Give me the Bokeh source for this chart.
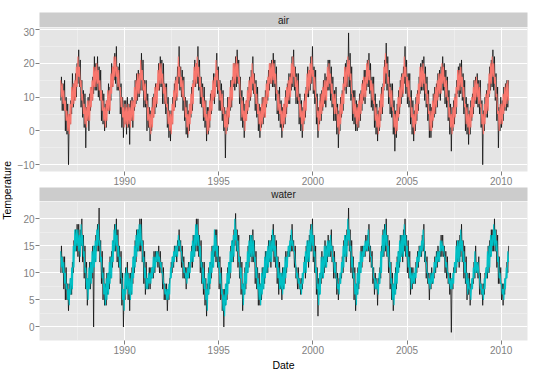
import numpy as np
from bokeh.plotting import figure
from bokeh.layouts import row, column
from bokeh.models import Range1d, FixedTicker
from bokeh.embed import file_html
from bokeh.resources import INLINE
from bokeh.core.properties import value

FONT = "Liberation Sans"

# monthly data, first month = Aug 1986
start_year, start_month = 1986, 8

# ---- air: observed (black) monthly high / low, modelled (red) monthly high / low
air_obs_hi = [
    16, 14, 15, 10, 8, 5, 9, 17, 14, 17, 20, 24,
    21, 15, 12, 11, 7, 10, 11, 13, 16, 22, 20, 22,
    19, 18, 12, 11, 8, 9, 14, 13, 20, 19, 23, 25,
    19, 20, 14, 10, 9, 9, 10, 8, 9, 10, 9, 15,
    17, 18, 17, 23, 21, 15, 15, 11, 7, 6, 10, 11,
    14, 14, 20, 22, 21, 20, 14, 14, 10, 6, 6, 10,
    14, 16, 19, 25, 19, 18, 16, 10, 9, 6, 8, 13,
    15, 21, 20, 25, 21, 16, 14, 13, 9, 7, 7, 11,
    12, 17, 17, 23, 19, 15, 14, 12, 7, 6, 10, 10,
    15, 16, 20, 22, 24, 21, 16, 12, 10, 8, 9, 13,
    16, 18, 22, 17, 15, 13, 8, 7, 10, 10, 12, 15,
    18, 20, 21, 23, 21, 19, 12, 13, 9, 7, 8, 12,
    14, 17, 17, 22, 24, 19, 17, 17, 11, 9, 7, 11,
    13, 19, 18, 22, 25, 19, 18, 11, 7, 11, 12, 15,
    17, 16, 21, 21, 19, 16, 12, 13, 8, 6, 10, 12,
    16, 20, 21, 29, 23, 19, 12, 12, 9, 8, 11, 12,
    15, 18, 18, 21, 23, 20, 16, 16, 11, 8, 6, 9,
    13, 14, 21, 26, 22, 18, 14, 14, 9, 6, 8, 12,
    15, 17, 19, 25, 21, 17, 17, 12, 9, 6, 10, 12,
    16, 20, 21, 22, 19, 16, 12, 8, 7, 11, 13, 14,
    17, 18, 19, 22, 20, 18, 16, 12, 8, 7, 9, 11,
    15, 19, 20, 21, 17, 15, 10, 8, 6, 9, 11, 15,
    16, 17, 15, 15, 9, 6, 10, 12, 14, 19, 21, 24,
    22, 17, 13, 7, 10, 9, 13, 14, 15, 15,
]
air_obs_lo = [
    9, 6, 6, 0, -1, -10, 2, 5, 7, 9, 10, 14,
    13, 7, 4, 1, -5, 3, 0, 6, 9, 11, 12, 12,
    10, 9, 3, 2, 0, 1, 6, 5, 9, 13, 15, 14,
    12, 12, 5, 1, -2, 2, -1, 1, -4, 3, 1, 6,
    8, 9, 10, 12, 12, 7, 7, 0, 1, -3, 0, 4,
    5, 7, 12, 12, 13, 8, 8, 5, 1, -2, -3, 2,
    6, 7, 9, 14, 12, 10, 6, 3, -1, -2, 0, 4,
    6, 13, 13, 14, 12, 8, 7, 3, 1, -3, -1, 1,
    5, 9, 8, 13, 11, 6, 6, 3, 0, -8, 0, 2,
    6, 7, 13, 12, 13, 14, 8, 3, 1, -2, 3, 5,
    7, 9, 12, 11, 6, 4, 0, -2, 1, 2, 4, 7,
    9, 12, 14, 13, 13, 9, 5, 3, 1, -2, 1, 2,
    5, 8, 8, 12, 13, 12, 8, 8, 2, 0, -2, 2,
    4, 10, 10, 12, 14, 11, 8, 2, -2, 2, 3, 6,
    8, 7, 12, 12, 9, 7, 3, 3, -1, -5, 0, 4,
    6, 12, 11, 13, 13, 9, 3, 2, 0, 0, 1, 3,
    6, 9, 8, 12, 13, 11, 7, 6, 1, -1, -3, 0,
    3, 5, 12, 14, 12, 8, 5, 4, -1, -6, -2, 3,
    5, 8, 10, 14, 11, 8, 7, 2, -1, -3, 0, 3,
    6, 11, 12, 12, 9, 7, 3, -2, -2, 1, 4, 5,
    7, 10, 9, 12, 12, 8, 7, 3, -1, -6, 0, 2,
    5, 11, 10, 11, 9, 5, 0, -1, -4, -1, 3, 5,
    8, 8, 7, 5, 1, -10, 0, 4, 4, 10, 12, 13,
    12, 9, 3, -5, 0, 1, 3, 6, 6, 7,
]
air_mod_hi = [
    15, 14, 12, 9, 6, 5, 8, 13, 14, 15, 19, 22,
    19, 15, 11, 8, 7, 9, 9, 13, 15, 19, 19, 20,
    18, 15, 12, 9, 7, 9, 12, 12, 17, 19, 22, 22,
    19, 18, 13, 10, 7, 8, 7, 8, 7, 9, 9, 13,
    15, 17, 17, 21, 18, 15, 14, 9, 7, 5, 7, 10,
    13, 14, 18, 20, 20, 17, 14, 13, 8, 6, 5, 8,
    12, 15, 16, 22, 19, 16, 15, 10, 7, 5, 8, 11,
    14, 19, 20, 22, 19, 16, 13, 10, 9, 5, 6, 9,
    12, 15, 16, 21, 18, 15, 12, 11, 7, 5, 7, 10,
    13, 15, 20, 20, 22, 20, 16, 10, 9, 6, 9, 12,
    15, 16, 20, 17, 14, 11, 8, 6, 8, 10, 10, 14,
    16, 20, 20, 21, 20, 17, 12, 11, 8, 6, 8, 10,
    13, 15, 16, 20, 22, 19, 16, 15, 10, 8, 6, 9,
    12, 17, 18, 20, 22, 18, 16, 10, 6, 9, 11, 13,
    15, 15, 19, 20, 17, 14, 11, 11, 7, 5, 8, 11,
    14, 19, 19, 22, 21, 17, 11, 10, 8, 7, 9, 11,
    14, 16, 16, 20, 21, 18, 15, 14, 9, 7, 5, 7,
    11, 13, 19, 23, 20, 16, 13, 12, 7, 5, 6, 10,
    13, 16, 17, 22, 19, 16, 15, 10, 7, 5, 8, 11,
    14, 19, 19, 20, 17, 14, 11, 6, 6, 9, 11, 13,
    15, 17, 17, 20, 19, 16, 15, 10, 7, 5, 7, 10,
    13, 18, 18, 19, 16, 13, 8, 7, 5, 7, 10, 13,
    15, 16, 14, 13, 8, 5, 8, 11, 12, 17, 20, 22,
    20, 16, 11, 6, 8, 8, 11, 13, 14, 15,
]
air_mod_lo = [
    10, 8, 6, 3, 0, -1, 2, 7, 8, 9, 13, 16,
    13, 9, 5, 2, 1, 3, 3, 7, 9, 13, 13, 14,
    12, 9, 6, 3, 1, 3, 6, 6, 11, 13, 16, 16,
    13, 12, 7, 4, 1, 2, 1, 2, 1, 3, 3, 7,
    9, 11, 11, 15, 12, 9, 8, 3, 1, -1, 1, 4,
    7, 8, 12, 14, 14, 11, 8, 7, 2, 0, -1, 2,
    6, 9, 10, 16, 13, 10, 9, 4, 1, -1, 2, 5,
    8, 13, 14, 16, 13, 10, 7, 4, 3, -1, 0, 3,
    6, 9, 10, 15, 12, 9, 6, 5, 1, -1, 1, 4,
    7, 9, 14, 14, 16, 14, 10, 4, 3, 0, 3, 6,
    9, 10, 14, 11, 8, 5, 2, 0, 2, 4, 4, 8,
    10, 14, 14, 15, 14, 11, 6, 5, 2, 0, 2, 4,
    7, 9, 10, 14, 16, 13, 10, 9, 4, 2, 0, 3,
    6, 11, 12, 14, 16, 12, 10, 4, 0, 3, 5, 7,
    9, 9, 13, 14, 11, 8, 5, 5, 1, -1, 2, 5,
    8, 13, 13, 16, 15, 11, 5, 4, 2, 1, 3, 5,
    8, 10, 10, 14, 15, 12, 9, 8, 3, 1, -1, 1,
    5, 7, 13, 17, 14, 10, 7, 6, 1, -1, 0, 4,
    7, 10, 11, 16, 13, 10, 9, 4, 1, -1, 2, 5,
    8, 13, 13, 14, 11, 8, 5, 0, 0, 3, 5, 7,
    9, 11, 11, 14, 13, 10, 9, 4, 1, -1, 1, 4,
    7, 12, 12, 13, 10, 7, 2, 1, -1, 1, 4, 7,
    9, 10, 8, 7, 2, -1, 2, 5, 6, 11, 14, 16,
    14, 10, 5, 0, 2, 2, 5, 7, 8, 9,
]

# ---- water: observed (black) monthly high / low, modelled (cyan) monthly high / low
water_obs_hi = [
    15, 13, 13, 11, 8, 8, 9, 12, 16, 18, 19, 19,
    18, 20, 17, 15, 12, 9, 12, 12, 15, 15, 17, 19,
    22, 16, 14, 11, 8, 10, 10, 13, 14, 16, 19, 20,
    18, 15, 14, 10, 7, 11, 12, 10, 10, 11, 13, 16,
    18, 18, 20, 20, 16, 14, 12, 9, 11, 11, 11, 14,
    14, 14, 15, 14, 12, 11, 8, 8, 7, 9, 12, 13,
    15, 15, 16, 18, 16, 15, 13, 11, 11, 12, 12, 15,
    17, 17, 20, 20, 17, 16, 12, 12, 9, 8, 11, 12,
    15, 15, 18, 18, 15, 13, 11, 7, 7, 8, 11, 12,
    15, 16, 18, 21, 18, 17, 13, 12, 8, 11, 12, 15,
    17, 17, 18, 16, 14, 11, 10, 8, 11, 11, 14, 14,
    16, 16, 17, 19, 17, 16, 13, 12, 10, 11, 11, 14,
    14, 15, 17, 19, 16, 15, 11, 11, 9, 9, 10, 13,
    15, 16, 17, 19, 20, 17, 15, 11, 9, 10, 14, 13,
    16, 15, 17, 16, 18, 15, 14, 12, 10, 9, 10, 13,
    16, 17, 18, 22, 18, 16, 13, 11, 8, 11, 12, 15,
    15, 15, 17, 17, 19, 15, 14, 11, 10, 9, 9, 11,
    15, 18, 19, 20, 17, 16, 12, 10, 8, 11, 13, 14,
    17, 17, 18, 20, 17, 16, 14, 11, 11, 10, 12, 14,
    15, 15, 17, 19, 14, 13, 10, 10, 11, 10, 13, 14,
    15, 14, 17, 17, 15, 14, 13, 10, 10, 9, 11, 12,
    16, 16, 17, 19, 16, 15, 13, 10, 10, 8, 9, 12,
    15, 12, 13, 10, 8, 8, 10, 11, 15, 16, 18, 18,
    20, 18, 17, 13, 11, 8, 8, 9, 12, 15,
]
water_obs_lo = [
    10, 10, 7, 5, 5, 3, 6, 6, 10, 14, 14, 13,
    12, 15, 12, 9, 7, 4, 7, 7, 9, 0, 12, 14,
    14, 12, 8, 5, 4, 4, 6, 7, 9, 11, 14, 14,
    12, 11, 8, 4, 0, 5, 7, 5, 3, 6, 8, 10,
    12, 14, 14, 14, 12, 8, 6, 7, 7, 7, 9, 9,
    10, 12, 11, 10, 10, 7, 5, 5, 3, 5, 9, 10,
    11, 13, 12, 14, 14, 11, 9, 9, 7, 9, 9, 11,
    11, 13, 14, 14, 13, 10, 8, 6, 4, 2, 6, 7,
    9, 11, 13, 12, 11, 7, 5, 3, 0, 4, 5, 8,
    9, 12, 12, 15, 14, 11, 9, 6, 3, 6, 7, 10,
    11, 13, 12, 12, 8, 7, 4, 4, 5, 7, 8, 10,
    10, 12, 11, 14, 12, 11, 8, 6, 7, 5, 7, 8,
    10, 13, 13, 14, 14, 11, 9, 7, 7, 6, 7, 10,
    9, 12, 11, 14, 14, 12, 10, 6, 2, 6, 8, 9,
    10, 11, 12, 13, 13, 12, 9, 9, 6, 5, 8, 9,
    10, 13, 12, 15, 14, 10, 9, 5, 3, 6, 7, 10,
    11, 13, 13, 14, 14, 12, 11, 8, 6, 7, 4, 8,
    9, 13, 13, 14, 13, 10, 7, 5, 3, 6, 7, 10,
    11, 13, 12, 14, 13, 10, 9, 6, 7, 8, 8, 10,
    11, 13, 13, 14, 12, 9, 8, 5, 7, 8, 9, 10,
    11, 12, 13, 13, 13, 10, 9, 8, 6, -1, 7, 10,
    10, 12, 11, 13, 12, 9, 8, 5, 6, 4, 7, 8,
    9, 10, 9, 6, 6, 4, 6, 9, 9, 10, 13, 14,
    14, 14, 11, 8, 8, 5, 4, 6, 9, 10,
]
water_mod_hi = [
    14, 13, 12, 10, 8, 7, 9, 11, 15, 18, 18, 18,
    17, 19, 17, 14, 11, 9, 11, 12, 14, 15, 16, 18,
    19, 16, 13, 10, 8, 9, 10, 12, 13, 16, 18, 19,
    17, 15, 13, 9, 7, 10, 11, 10, 9, 10, 13, 15,
    17, 18, 19, 19, 16, 13, 11, 9, 10, 10, 11, 13,
    13, 14, 14, 13, 12, 10, 8, 7, 7, 8, 11, 13,
    14, 15, 15, 17, 16, 14, 12, 11, 10, 11, 12, 14,
    16, 17, 19, 19, 17, 15, 12, 11, 9, 7, 10, 12,
    14, 15, 18, 17, 15, 12, 10, 7, 6, 8, 10, 12,
    14, 16, 17, 20, 18, 16, 13, 11, 8, 10, 12, 14,
    16, 17, 17, 16, 13, 11, 9, 8, 10, 11, 13, 14,
    15, 16, 16, 18, 17, 15, 13, 11, 10, 10, 11, 13,
    13, 15, 16, 18, 16, 14, 11, 10, 9, 8, 10, 12,
    14, 16, 16, 18, 19, 17, 14, 11, 8, 10, 13, 13,
    15, 15, 16, 16, 17, 15, 13, 12, 9, 8, 10, 12,
    15, 17, 17, 20, 18, 15, 13, 10, 8, 10, 12, 14,
    14, 15, 16, 16, 18, 15, 13, 11, 9, 9, 8, 10,
    14, 17, 18, 19, 17, 15, 12, 9, 8, 10, 12, 14,
    16, 17, 17, 19, 17, 15, 13, 11, 10, 10, 11, 13,
    14, 15, 16, 18, 14, 12, 10, 9, 10, 10, 12, 13,
    14, 14, 16, 16, 15, 13, 12, 10, 9, 9, 10, 12,
    15, 16, 16, 18, 16, 14, 12, 10, 9, 7, 9, 11,
    14, 12, 12, 9, 8, 7, 9, 11, 14, 15, 17, 17,
    19, 18, 16, 13, 10, 8, 7, 9, 11, 14,
]
water_mod_lo = [
    11, 10, 8, 7, 5, 4, 6, 7, 11, 14, 15, 14,
    13, 15, 13, 10, 7, 5, 7, 8, 10, 11, 12, 15,
    15, 12, 9, 6, 4, 5, 6, 8, 9, 12, 14, 15,
    13, 11, 9, 5, 3, 6, 7, 6, 5, 6, 9, 11,
    13, 14, 15, 15, 12, 9, 7, 7, 8, 8, 9, 10,
    11, 12, 12, 11, 10, 8, 6, 5, 5, 6, 9, 11,
    12, 13, 13, 15, 14, 12, 10, 9, 8, 9, 10, 12,
    12, 13, 15, 15, 13, 11, 8, 7, 5, 3, 6, 8,
    10, 11, 14, 13, 11, 8, 6, 3, 2, 4, 6, 8,
    10, 12, 13, 16, 14, 12, 9, 7, 4, 6, 8, 10,
    12, 13, 13, 12, 9, 7, 5, 4, 6, 7, 9, 10,
    11, 12, 12, 14, 13, 11, 9, 7, 7, 6, 7, 9,
    11, 13, 14, 15, 14, 12, 9, 8, 7, 6, 8, 10,
    10, 12, 12, 14, 15, 13, 10, 7, 4, 6, 9, 9,
    11, 11, 13, 13, 14, 12, 10, 9, 7, 6, 8, 10,
    11, 13, 13, 16, 14, 11, 9, 6, 4, 6, 8, 10,
    12, 13, 14, 14, 15, 13, 11, 9, 7, 7, 6, 8,
    10, 13, 14, 15, 13, 11, 8, 5, 4, 6, 8, 10,
    12, 13, 13, 15, 13, 11, 9, 7, 8, 8, 9, 11,
    12, 13, 14, 15, 12, 10, 8, 7, 8, 8, 10, 11,
    12, 12, 14, 14, 13, 11, 10, 8, 7, 7, 8, 10,
    11, 12, 12, 14, 12, 10, 8, 6, 7, 5, 7, 9,
    10, 10, 10, 7, 6, 5, 7, 9, 10, 11, 13, 15,
    15, 14, 12, 9, 8, 6, 5, 7, 9, 12,
]

panels = ["air", "water"]
panel_colors = {"air": "#F8766D", "water": "#00BFC4"}
x_ticks = [1990, 1995, 2000, 2005, 2010]
x_minor = [1987.5, 1992.5, 1997.5, 2002.5, 2007.5]
y_ticks = {"air": [-10, 0, 10, 20, 30], "water": [0, 5, 10, 15, 20]}
y_minor = {"air": [-5, 5, 15, 25], "water": [2.5, 7.5, 12.5, 17.5]}

n = len(air_obs_hi)
for arr in (air_obs_lo, air_mod_hi, air_mod_lo, water_obs_hi, water_obs_lo, water_mod_hi, water_mod_lo):
    assert len(arr) == n, len(arr)

t = start_year + (start_month - 1) / 12.0 + np.arange(n) / 12.0


def zig(first, second):
    xs = np.empty(2 * n)
    ys = np.empty(2 * n)
    xs[0::2] = t + 0.25 / 12
    xs[1::2] = t + 0.75 / 12
    ys[0::2] = first
    ys[1::2] = second
    return xs, ys


YL_W = 13
LEFT, RIGHT = 26, 13
W = 540 - YL_W
TOTAL_H = 373
X_RANGE = (1985.48, 2011.4)
Y_RANGE = {"air": (-12.0, 30.6), "water": (-2.5, 23.2)}


def strip(label, h, top):
    s = figure(width=W, height=h, x_range=Range1d(0, 1), y_range=Range1d(0, 1),
               min_border_left=LEFT, min_border_right=RIGHT, min_border_top=top,
               min_border_bottom=0, x_axis_location=None, y_axis_location=None,
               background_fill_color="#CCCCCC", border_fill_color="white",
               outline_line_color=None, toolbar_location=None, output_backend="svg")
    s.grid.visible = False
    s.text(x=[0.5], y=[0.5], text=[label], text_align="center", text_baseline="middle",
           text_font=value(FONT), text_font_size="10px", text_color="#1A1A1A")
    return s


def panel(name, obs_hi, obs_lo, mod_hi, mod_lo, h, bottom, xlabel=None):
    p = figure(width=W, height=h, x_range=Range1d(*X_RANGE), y_range=Range1d(*Y_RANGE[name]),
               min_border_left=LEFT, min_border_right=RIGHT, min_border_top=0,
               min_border_bottom=bottom, background_fill_color="#E5E5E5",
               border_fill_color="white", outline_line_color=None,
               toolbar_location=None, output_backend="svg")
    xo, yo = zig(obs_lo, obs_hi)
    xm, ym = zig(mod_hi, mod_lo)
    p.line(xo, yo, color="black", line_width=0.7)
    p.line(xm, ym, color=panel_colors[name], line_width=1.1)
    xt = FixedTicker(ticks=x_ticks, minor_ticks=x_minor)
    yt = FixedTicker(ticks=y_ticks[name], minor_ticks=y_minor[name])
    p.xaxis.ticker = xt
    p.yaxis.ticker = yt
    p.xgrid.ticker = xt
    p.ygrid.ticker = yt
    for g in (p.xgrid, p.ygrid):
        g.grid_line_color = "white"
        g.grid_line_width = 1
        g.minor_grid_line_color = "#F2F2F2"
        g.minor_grid_line_width = 0.6
    for ax in (p.xaxis, p.yaxis):
        ax.axis_line_color = None
        ax.major_tick_line_color = "#7F7F7F"
        ax.major_tick_out = 4
        ax.major_tick_in = 0
        ax.minor_tick_line_color = None
        ax.major_label_text_color = "#7F7F7F"
        ax.major_label_text_font = FONT
        ax.major_label_text_font_size = "10px"
        ax.major_label_standoff = 1
    if xlabel:
        p.xaxis.axis_label = xlabel
        p.xaxis.axis_label_text_font = FONT
        p.xaxis.axis_label_text_font_size = "10.5px"
        p.xaxis.axis_label_text_font_style = "normal"
        p.xaxis.axis_label_text_color = "black"
        p.xaxis.axis_label_standoff = 2
    return p


strip_air = strip("air", 27, 12)
p_air = panel("air", air_obs_hi, air_obs_lo, air_mod_hi, air_mod_lo, 160, 15)
strip_water = strip("water", 14, 0)
p_water = panel("water", water_obs_hi, water_obs_lo, water_mod_hi, water_mod_lo, 172, 27, xlabel="Date")

yl = figure(width=YL_W, height=TOTAL_H, x_range=Range1d(0, 1), y_range=Range1d(0, 1),
            min_border=0, x_axis_location=None, y_axis_location=None,
            outline_line_color=None, toolbar_location=None, output_backend="svg")
yl.grid.visible = False
yl.text(x=[0.5], y=[0.491], text=["Temperature"], angle=np.pi / 2, text_align="center",
        text_baseline="middle", text_font=value(FONT), text_font_size="10.5px", text_color="black")

layout = row(yl, column(strip_air, p_air, strip_water, p_water, spacing=0), spacing=0)

open("out.html", "w").write(file_html(layout, INLINE, "Temperature"))
